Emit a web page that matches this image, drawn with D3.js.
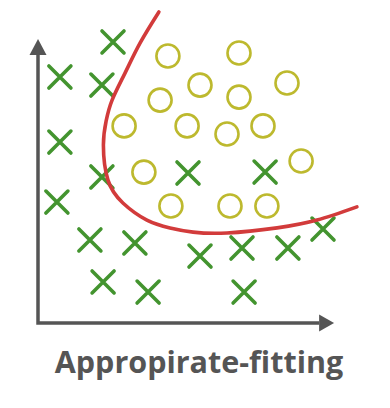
<!DOCTYPE html>
<html>
<head>
<meta charset="utf-8">
<script src="https://cdn.jsdelivr.net/npm/d3@7"></script>
<style>
  html, body { margin: 0; padding: 0; background: #fff; }
  svg { display: block; }
</style>
</head>
<body>
<script>
// ---- data (arbitrary units) ----
const crossX = [2.5, 0.73, 2.13, 0.73, 2.13, 5.0, 7.57, 0.63, 1.73, 3.23, 5.4, 6.8, 8.33, 9.5, 2.17, 3.67, 6.87];
const crossY = [9.37, 8.2, 7.93, 6.03, 4.87, 5.0, 5.03, 4.03, 2.77, 2.67, 2.23, 2.5, 2.5, 3.13, 1.37, 1.03, 1.03];

const circleX = [4.33, 6.7, 5.4, 8.3, 4.07, 6.7, 2.87, 4.97, 6.3, 7.5, 3.53, 8.77, 4.43, 6.4, 7.63];
const circleY = [8.9, 9.0, 7.93, 8.0, 7.43, 7.53, 6.57, 6.57, 6.3, 6.57, 5.03, 5.4, 3.9, 3.9, 3.9];

const boundaryX = [4.03, 3.4, 2.9, 2.47, 2.27, 2.18, 2.33, 2.83, 3.63, 4.4, 5.17, 6.3, 7.97, 9.3, 10.63];
const boundaryY = [10.37, 9.33, 8.33, 7.43, 6.73, 5.93, 4.77, 4.0, 3.43, 3.17, 3.03, 3.0, 3.17, 3.43, 3.87];

const axisXEnd = 9.87;
const axisYEnd = 9.47;
const title = "Appropirate-fitting";

// ---- drawing ----
const W = 390, H = 408;
const svg = d3.select("body").append("svg").attr("width", W).attr("height", H);

const x = d3.scaleLinear().domain([0, 10]).range([38, 338]);
const y = d3.scaleLinear().domain([0, 10]).range([323, 23]);

const axisColor = "#555555";
const g = svg.append("g");

// axes lines
g.append("path")
  .attr("d", `M${x(0)},${y(axisYEnd) + 16} L${x(0)},${y(0)} L${x(axisXEnd) - 15},${y(0)}`)
  .attr("fill", "none").attr("stroke", axisColor).attr("stroke-width", 3.5)
  .attr("stroke-linejoin", "miter");
// arrowheads
g.append("path")
  .attr("d", `M${x(0)},${y(axisYEnd)} L${x(0) - 8.5},${y(axisYEnd) + 16} L${x(0) + 8.5},${y(axisYEnd) + 16} Z`)
  .attr("fill", axisColor);
g.append("path")
  .attr("d", `M${x(axisXEnd)},${y(0)} L${x(axisXEnd) - 15},${y(0) - 8.5} L${x(axisXEnd) - 15},${y(0) + 8.5} Z`)
  .attr("fill", axisColor);

// circles
const circles = circleX.map((v, i) => ({ x: v, y: circleY[i] }));
g.selectAll("circle.o").data(circles).enter().append("circle")
  .attr("class", "o")
  .attr("cx", d => x(d.x)).attr("cy", d => y(d.y)).attr("r", 11.5)
  .attr("fill", "none").attr("stroke", "#bdb92e").attr("stroke-width", 2.6);

// crosses
const crosses = crossX.map((v, i) => ({ x: v, y: crossY[i] }));
const s = 11;
g.selectAll("path.x").data(crosses).enter().append("path")
  .attr("class", "x")
  .attr("d", d => {
    const cx = x(d.x), cy = y(d.y);
    return `M${cx - s},${cy - s} L${cx + s},${cy + s} M${cx + s},${cy - s} L${cx - s},${cy + s}`;
  })
  .attr("fill", "none").attr("stroke", "#43942f").attr("stroke-width", 3.6)
  .attr("stroke-linecap", "round");

// decision boundary
const boundary = boundaryX.map((v, i) => ({ x: v, y: boundaryY[i] }));
g.append("path")
  .datum(boundary)
  .attr("d", d3.line().x(d => x(d.x)).y(d => y(d.y)).curve(d3.curveNatural))
  .attr("fill", "none").attr("stroke", "#d23b3b").attr("stroke-width", 3.6)
  .attr("stroke-linecap", "round");

// title
svg.append("text")
  .attr("x", 199).attr("y", 373)
  .attr("text-anchor", "middle")
  .attr("font-family", "'Open Sans', sans-serif")
  .attr("font-weight", "bold")
  .attr("font-size", 30.5)
  .attr("fill", "#555555")
  .text(title);
</script>
</body>
</html>
